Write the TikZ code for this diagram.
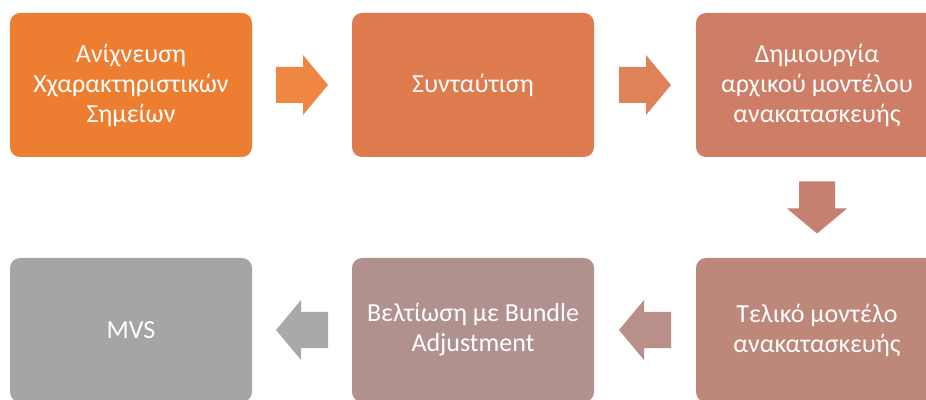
\documentclass[tikz,border=0pt]{standalone}
\usepackage{fontspec}
\setmainfont{Carlito}
\usetikzlibrary{calc}

\definecolor{stepA}{HTML}{ED7D31}
\definecolor{stepB}{HTML}{DF7C4F}
\definecolor{stepC}{HTML}{CE7D66}
\definecolor{stepD}{HTML}{BD877A}
\definecolor{stepE}{HTML}{B0918E}
\definecolor{stepF}{HTML}{A5A5A5}
\definecolor{arrA}{HTML}{EF8743}
\definecolor{arrB}{HTML}{DF8159}
\definecolor{arrC}{HTML}{C6806F}
\definecolor{arrD}{HTML}{B88F89}
\definecolor{arrE}{HTML}{A9A9A9}

\tikzset{
  stepbox/.style={rounded corners=10pt, minimum width=242pt, minimum height=144pt,
    text=white, align=center, inner sep=0pt,
    font=\fontsize{26}{30}\selectfont}
}
% block arrow: position, rotation, colour
\newcommand{\blockarrow}[3]{%
  \fill[#3, shift={#1}, rotate=#2] (-26,-18) -- (1,-18) -- (1,-30) -- (26,0)
    -- (1,30) -- (1,18) -- (-26,18) -- cycle;}

\begin{document}
\begin{tikzpicture}[x=1pt,y=1pt]
\useasboundingbox (0,0) rectangle (926,399);
% top row
\node[stepbox, fill=stepA] (detect) at (131,314) {Ανίχνευση\\Χχαρακτηριστικών\\Σημείων};
\node[stepbox, fill=stepB] (match) at (473,314) {Συνταύτιση};
\node[stepbox, fill=stepC] (initial) at (817,314) {Δημιουργία\\αρχικού μοντέλου\\ανακατασκευής};
% bottom row
\node[stepbox, fill=stepD] (final) at (817,69) {Τελικό μοντέλο\\ανακατασκευής};
\node[stepbox, fill=stepE] (bundle) at (473,69) {Βελτίωση με Bundle\\Adjustment};
\node[stepbox, fill=stepF] (mvs) at (131,69) {MVS};
% arrows
\blockarrow{($(detect)!0.5!(match)$)}{0}{arrA}
\blockarrow{($(match)!0.5!(initial)$)}{0}{arrB}
\blockarrow{($(initial)!0.5!(final)$)}{270}{arrC}
\blockarrow{($(final)!0.5!(bundle)$)}{180}{arrD}
\blockarrow{($(bundle)!0.5!(mvs)$)}{180}{arrE}
\end{tikzpicture}
\end{document}
